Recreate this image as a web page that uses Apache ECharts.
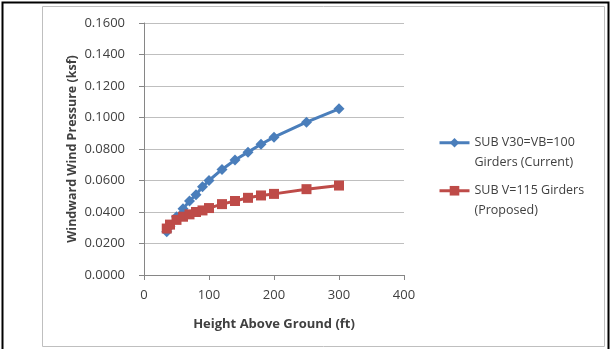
<!DOCTYPE html>
<html>
<head>
<meta charset="utf-8">
<script src="https://cdn.jsdelivr.net/npm/echarts@6/dist/echarts.min.js"></script>
<style>
  html, body { margin: 0; padding: 0; background: #ffffff; }
  #chart { width: 611px; height: 349px; }
</style>
</head>
<body>
<div id="chart"></div>
<script>
// Heights above ground (ft) where wind pressure was evaluated
const heights = [35, 40, 50, 60, 70, 80, 90, 100, 120, 140, 160, 180, 200, 250, 300];

// Windward wind pressure (ksf) for each girder design case
const currentPressure  = [0.0275, 0.0310, 0.0370, 0.0420, 0.0470, 0.0510, 0.0560, 0.0600, 0.0670, 0.0730, 0.0780, 0.0830, 0.0875, 0.0970, 0.1055];
const proposedPressure = [0.0295, 0.0320, 0.0350, 0.0370, 0.0385, 0.0400, 0.0410, 0.0425, 0.0450, 0.0470, 0.0490, 0.0505, 0.0515, 0.0545, 0.0568];

const seriesNames = ['SUB V30=VB=100\nGirders (Current)', 'SUB V=115 Girders\n(Proposed)'];
const xTicks = [0, 100, 200, 300, 400];
const yTicks = [0, 0.02, 0.04, 0.06, 0.08, 0.10, 0.12, 0.14, 0.16];

const FONT = '"Open Sans", sans-serif';
const TEXT = '#404040';
const BLUE = '#4a7ebb';
const RED = '#be4b48';

const pairs = (xs, ys) => xs.map((x, i) => [x, ys[i]]);

const chart = echarts.init(document.getElementById('chart'), null, { renderer: 'canvas' });

// Each legend entry: icon sits level with the first text line
// (a blank leading line keeps the first line on the icon's centre).
const legendCommon = {
  orient: 'vertical', left: 433, itemWidth: 30, itemHeight: 12,
  selectedMode: false,
  lineStyle: { width: 3 },
  formatter: name => '\n' + name,
  textStyle: { color: TEXT, fontFamily: FONT, fontSize: 12.5, lineHeight: 19.5 }
};

chart.setOption({
  animation: false,
  backgroundColor: '#ffffff',
  textStyle: { fontFamily: FONT },
  graphic: [
    // outer black frame (top, left, right edges)
    { type: 'polyline', silent: true, z: 10,
      shape: { points: [[2.5, 349], [2.5, 2.5], [608.5, 2.5], [608.5, 349]] },
      style: { stroke: '#000000', lineWidth: 2, fill: null } },
    // chart area border
    { type: 'rect', silent: true, z: 9,
      shape: { x: 42.5, y: 6.5, width: 562, height: 340 },
      style: { stroke: '#bfbfbf', lineWidth: 1, fill: null } }
  ],
  grid: { left: 144, top: 23, width: 260, height: 252, containLabel: false },
  legend: [
    Object.assign({ data: [seriesNames[0]], top: 108.5 }, legendCommon),
    Object.assign({ data: [seriesNames[1]], top: 156.5 }, legendCommon)
  ],
  xAxis: {
    type: 'value', min: xTicks[0], max: xTicks[xTicks.length - 1], interval: 100,
    name: 'Height Above Ground (ft)', nameLocation: 'middle', nameGap: 43,
    nameTextStyle: { color: TEXT, fontWeight: 'bold', fontSize: 13, fontFamily: FONT },
    axisLine: { show: true, lineStyle: { color: '#868686', width: 1 } },
    axisTick: { show: true, inside: false, length: 5, lineStyle: { color: '#868686' } },
    axisLabel: { color: TEXT, fontSize: 13, margin: 14, fontFamily: FONT },
    splitLine: { show: false }
  },
  yAxis: {
    type: 'value', min: yTicks[0], max: yTicks[yTicks.length - 1], interval: 0.02,
    name: 'Windward Wind Pressure (ksf)', nameLocation: 'middle', nameGap: 65,
    nameTextStyle: { color: TEXT, fontWeight: 'bold', fontSize: 12.5, fontFamily: FONT },
    axisLine: { show: true, lineStyle: { color: '#868686', width: 1 } },
    axisTick: { show: true, inside: false, length: 5, lineStyle: { color: '#868686' } },
    axisLabel: { color: TEXT, fontSize: 13, margin: 19, fontFamily: FONT,
      formatter: v => v.toFixed(4) },
    splitLine: { show: true, lineStyle: { color: '#bfbfbf', width: 1 } }
  },
  series: [
    {
      name: seriesNames[0], type: 'line', data: pairs(heights, currentPressure),
      symbol: 'diamond', symbolSize: 11, showSymbol: true,
      lineStyle: { color: BLUE, width: 3 },
      itemStyle: { color: BLUE }
    },
    {
      name: seriesNames[1], type: 'line', data: pairs(heights, proposedPressure),
      symbol: 'rect', symbolSize: 10, showSymbol: true,
      lineStyle: { color: RED, width: 3 },
      itemStyle: { color: RED }
    }
  ]
});
</script>
</body>
</html>
